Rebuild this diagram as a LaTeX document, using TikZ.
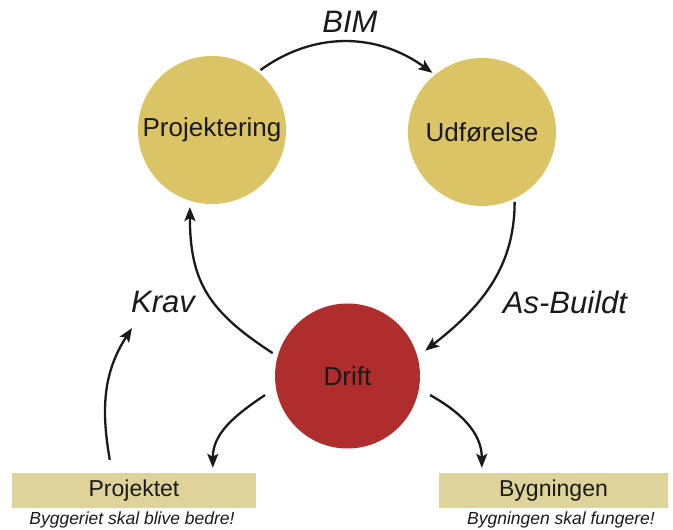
\documentclass[tikz,border=0pt]{standalone}
\usepackage{fontspec}
\setmainfont{Liberation Sans}
\usetikzlibrary{arrows.meta}
\definecolor{ochre}{HTML}{DBC466}
\definecolor{driftred}{HTML}{B02D2D}
\definecolor{khaki}{HTML}{DDD39B}
\definecolor{ink}{HTML}{1A1A1A}

\begin{document}
\begin{tikzpicture}[x=1pt,y=1pt,
  phase/.style={circle, fill=ochre, minimum size=148pt, inner sep=0pt, text=ink,
    font=\fontsize{26}{30}\selectfont},
  ops/.style={phase, fill=driftred, minimum size=145pt},
  result/.style={fill=khaki, minimum height=35pt, inner sep=0pt, text=ink,
    font=\fontsize{23}{27}\selectfont},
  flowlabel/.style={text=ink, font=\fontsize{31}{35}\selectfont\itshape},
  motto/.style={text=ink, font=\fontsize{17.5}{20}\selectfont\itshape},
  flow/.style={draw=ink, line width=2.3pt,
    -{Stealth[length=14pt,width=11pt,inset=3pt]}}
]
\useasboundingbox (0,0) rectangle (673,530);

% phases of the building process
\node[phase] (proj) at (212,400) {Projektering};
\node[phase] (udf)  at (482,398) {Udførelse};
\node[ops]   (drift) at (347.5,154) {Drift};

% outcome boxes
\node[result, minimum width=244pt] (pjt) at (134,39.5) {Projektet};
\node[result, minimum width=229pt] (byg) at (553.5,39.5) {Bygningen};
\node[motto] (m1) at (132,10) {Byggeriet skal blive bedre!};
\node[motto] (m2) at (561,10) {Bygningen skal fungere!};

% flow labels
\node[flowlabel] (bim)  at (350,508) {BIM};
\node[flowlabel] (krav) at (163,228) {Krav};
\node[flowlabel] (asb)  at (565,228) {As-Buildt};

\coordinate (kravtip) at (132,202);

% cycle
\draw[flow] ([shift={(51:3)}]proj.51) to[out=36, in=144] ([shift={(130:3)}]udf.130);
\draw[flow] ([shift={(-65:3)}]udf.-65) to[out=-90, in=38] ([shift={(18.5:9)}]drift.18.5);
\draw[flow] ([shift={(163:5.5)}]drift.163) to[out=147, in=270, looseness=1.15] ([shift={(254:6)}]proj.254);

% feedback to the outcomes
\draw[flow] ([shift={(193:12)}]drift.193) to[out=214, in=90] ([shift={(201,5)}]pjt.north west);
\draw[flow] ([shift={(-13:12)}]drift.-13) to[out=-29, in=90] ([shift={(43,5)}]byg.north west);
\draw[flow] ([shift={(98,13)}]pjt.north west) to[out=100, in=237] (kravtip);
\end{tikzpicture}
\end{document}
